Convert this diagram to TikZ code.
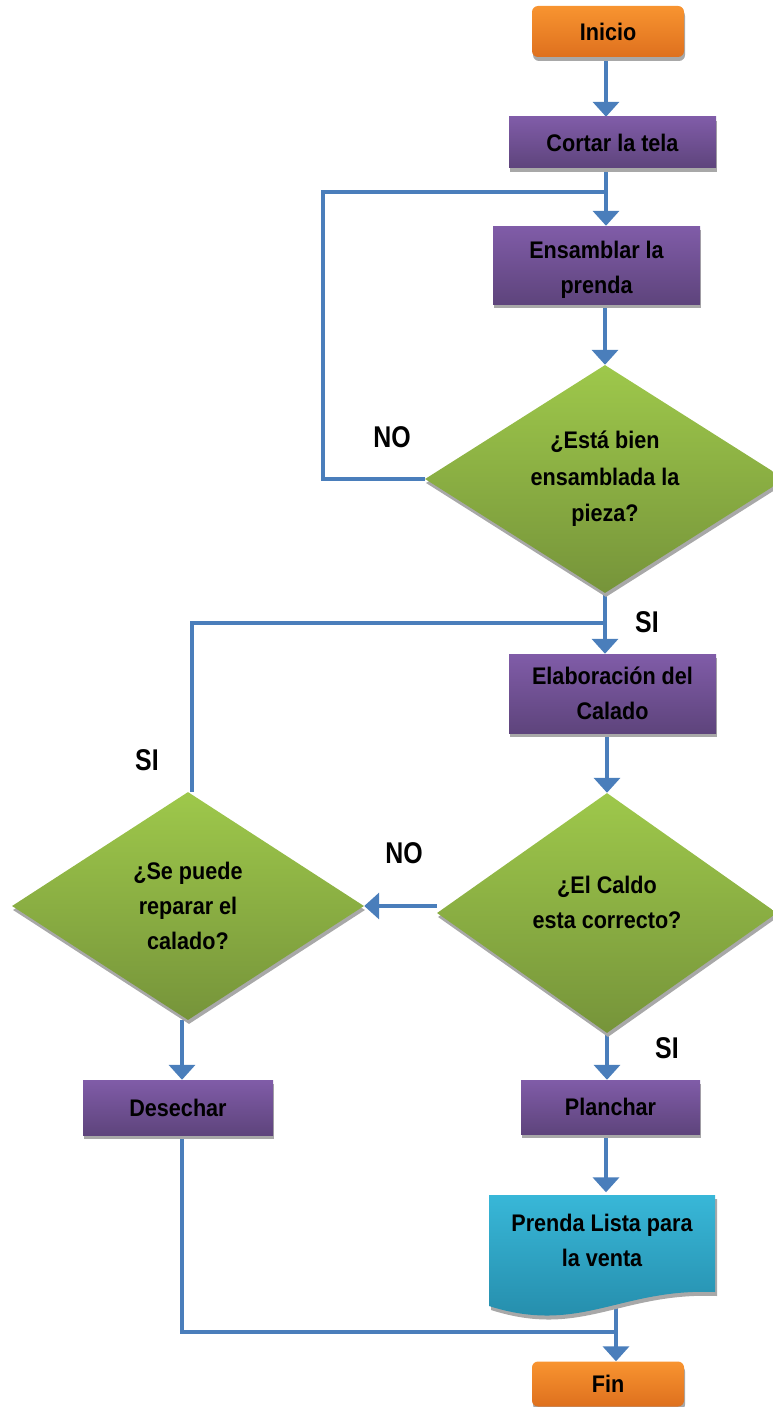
\documentclass[tikz,border=0pt]{standalone}
\usepackage{fontspec}
\setmainfont[FakeStretch=0.9]{Liberation Sans}
\newfontfamily\lblfont[FakeStretch=0.83]{Liberation Sans}
\usetikzlibrary{arrows.meta,shapes.geometric,shadows,calc}
\pgfdeclarelayer{bg}
\pgfsetlayers{bg,main}
\definecolor{lineblue}{RGB}{74,126,187}
\definecolor{purpleT}{RGB}{128,92,168}
\definecolor{purpleB}{RGB}{94,68,124}
\definecolor{orangeT}{RGB}{248,148,48}
\definecolor{orangeB}{RGB}{222,112,30}
\definecolor{greenT}{RGB}{158,200,75}
\definecolor{greenB}{RGB}{118,148,58}
\definecolor{cyanT}{RGB}{56,183,216}
\definecolor{cyanB}{RGB}{35,136,166}
\definecolor{shadowgray}{RGB}{168,168,168}
\begin{document}
\begin{tikzpicture}[x=1pt,y=-1pt,
  txt/.style={font=\bfseries\fontsize{24}{35}\selectfont, align=center, text=black},
  lbl/.style={font=\lblfont\bfseries\fontsize{30}{32}\selectfont, text=black},
  shd/.style={drop shadow={shadow xshift=1pt,shadow yshift=-4pt,fill=shadowgray,opacity=1}},
  proc/.style={rectangle, inner sep=0pt, top color=purpleT, bottom color=purpleB, shd, txt},
  term/.style={rectangle, rounded corners=6pt, inner sep=0pt, top color=orangeT, bottom color=orangeB, shd, txt},
  dec/.style={diamond, inner sep=0pt, top color=greenT, bottom color=greenB, shd, txt},
  con/.style={draw=lineblue, line width=4.5pt},
  arr/.style={con, -{Triangle[width=26pt,length=15pt]}},
]
\useasboundingbox (0,0) rectangle (773,1407);
\clip (0,0) rectangle (773,1407);

\coordinate (sp) at (606,0);

% nodes
\node[term, minimum width=152pt, minimum height=51pt] (inicio) at (608,31.5) {Inicio};
\node[proc, minimum width=207pt, minimum height=51pt] (cortar) at (612.5,142.5) {Cortar la tela};
\node[proc, minimum width=207pt, minimum height=78pt,
  label={[txt,yshift=-5pt]center:{Ensamblar la\\prenda}}] (ensamblar) at (596.5,265) {};
\node[dec, minimum width=360pt, minimum height=228pt, aspect=1.58, font=\bfseries\fontsize{24}{36.5}\selectfont] (d1) at (605,479) {¿Está bien\\ensamblada la\\pieza?};
\node[proc, minimum width=207pt, minimum height=79pt] (elab) at (612.5,693.5) {Elaboración del\\Calado};
\node[dec, minimum width=340pt, minimum height=240pt,
  label={[txt,yshift=11pt]center:{¿El Caldo\\esta correcto?}}] (d2) at (607,913) {};
\node[dec, minimum width=352pt, minimum height=228pt, aspect=1.54] (d3) at (188,906) {¿Se puede\\reparar el\\calado?};
\node[proc, minimum width=190pt, minimum height=55pt] (desechar) at (178,1107.5) {Desechar};
\node[proc, minimum width=179pt, minimum height=54pt] (planchar) at (610.5,1107) {Planchar};

% document shape
\fill[shadowgray] (491,1199) -- (717,1199) -- (717,1296)
  .. controls (620,1292) and (582,1339) .. (491,1310) -- cycle;
\shade[top color=cyanT, bottom color=cyanB] (489,1195) -- (715,1195) -- (715,1292)
  .. controls (620,1288) and (580,1335) .. (489,1306) -- cycle;
\node[txt, minimum width=226pt, minimum height=95pt, inner sep=0pt] (prenda) at (602,1240) {Prenda Lista para\\la venta};

\node[term, minimum width=152pt, minimum height=45pt] (fin) at (608,1384) {Fin};

% labels
\node[lbl] (no1) at (392,437) {NO};
\node[lbl] (si1) at (647,622) {SI};
\node[lbl] (si2) at (147,760) {SI};
\node[lbl] (no2) at (404,853) {NO};
\node[lbl] (si3) at (667,1048) {SI};

% connectors
\coordinate (j1) at (606,192);
\coordinate (l1) at (323,192);
\coordinate (j2) at (606,623);
\coordinate (j3) at (616,1332);
\coordinate (d3top) at ($(d3.north)+(4,0)$);
\coordinate (d3bot) at ($(d3.south)+(-6,0)$);
\begin{pgfonlayer}{bg}
\draw[arr] (inicio.south -| sp) -- (cortar.north -| sp);
\draw[arr] (cortar.south -| sp) -- (ensamblar.north -| sp);
\draw[con] (d1.west) -| (l1) -- (j1);
\draw[arr] (ensamblar.south -| d1.north) -- (d1.north);
\draw[arr] (d1.south) -- (elab.north -| d1.south);
\draw[con] (d3top) |- (j2);
\draw[arr] (elab.south -| d2.north) -- (d2.north);
\draw[arr] (d3.east -| d2.west) -- (d3.east);
\draw[arr] (d3bot) -- (desechar.north -| d3bot);
\draw[arr] (d2.south) -- (planchar.north -| d2.south);
\draw[arr] (planchar.south -| sp) -- (prenda.north -| sp);
\draw[con] (desechar.south -| d3bot) |- (j3);
\draw[arr] (prenda.south -| j3) -- (fin.north -| j3);
\end{pgfonlayer}
\end{tikzpicture}
\end{document}
